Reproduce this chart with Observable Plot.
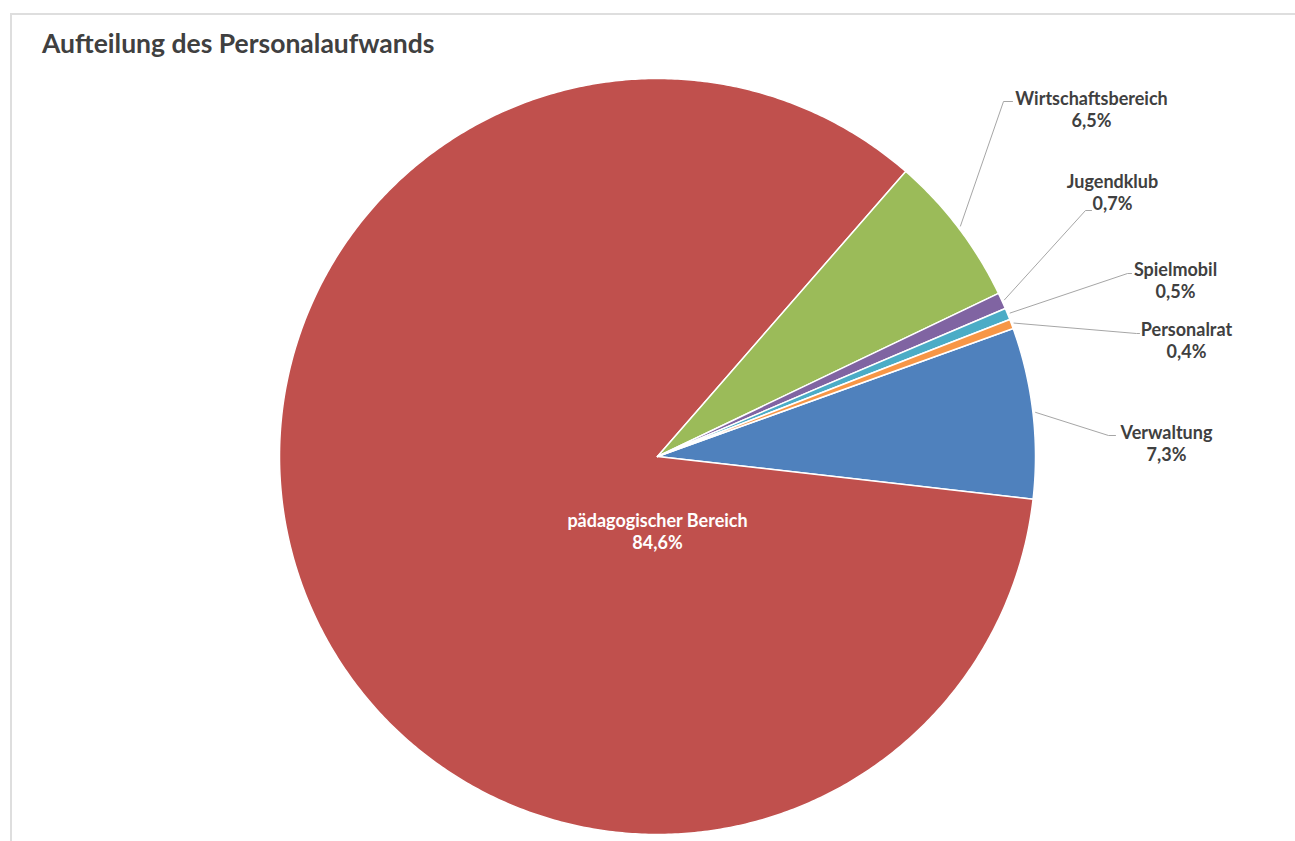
<!DOCTYPE html>
<html>
<head>
<meta charset="utf-8">
<script src="https://cdn.jsdelivr.net/npm/d3@7"></script>
<script src="https://cdn.jsdelivr.net/npm/@observablehq/plot@0.6"></script>
<style>
  body { margin: 0; background: #ffffff; }
  #wrap { position: relative; width: 1295px; height: 841px; overflow: hidden; font-family: Lato, "Open Sans", sans-serif; }
  #frame { position: absolute; left: 10px; top: 13px; width: 1400px; height: 900px; border-left: 2px solid #dedede; border-top: 2px solid #dedede; }
  #title { position: absolute; left: 42px; top: 28px; font-family: Lato, sans-serif; font-weight: bold; font-size: 26.5px; line-height: 30px; color: #404040; white-space: nowrap; }
  #chart { position: absolute; left: 0; top: 0; }
</style>
</head>
<body>
<div id="wrap">
  <div id="frame"></div>
  <div id="chart"></div>
  <div id="title">Aufteilung des Personalaufwands</div>
</div>
<script>
// ---- data ----
const categories = ["Verwaltung", "pädagogischer Bereich", "Wirtschaftsbereich", "Jugendklub", "Spielmobil", "Personalrat"];
const shares = [7.3, 84.6, 6.5, 0.7, 0.5, 0.4];
const sliceColors = ["#4F81BD", "#C0504D", "#9BBB59", "#8064A2", "#4BACC6", "#F79646"];

// ---- layout (pixels) ----
const W = 1295, H = 841;
const CX = 657, CY = 456, R = 378;
const START_ANGLE = 70.2; // degrees, clockwise from 12 o'clock
// label block centres and leader-line bends for outside labels
const labelLayout = [
  { name: "Verwaltung",            tx: 1166, ty: 442, bend: [1108, 435], end: [1115, 435], inside: false },
  { name: "pädagogischer Bereich", tx: 657,  ty: 530, inside: true },
  { name: "Wirtschaftsbereich",    tx: 1091, ty: 108, bend: [1003, 101], end: [1012, 101], inside: false },
  { name: "Jugendklub",            tx: 1112, ty: 191, bend: [1085, 210], end: [1091, 210], inside: false },
  { name: "Spielmobil",            tx: 1175, ty: 279, bend: [1127, 273], end: [1131, 273], inside: false },
  { name: "Personalrat",           tx: 1186, ty: 339, bend: [1136, 333], end: [1139, 333], inside: false }
];

const toUX = px => (px - CX) / R;
const toUY = py => (CY - py) / R;
const fmtPct = v => d3.format(".1f")(v).replace(".", ",") + "%";

const total = d3.sum(shares);
const slicePts = [];
const mids = [];
let cum = 0;
categories.forEach((name, i) => {
  const a0 = START_ANGLE + cum / total * 360;
  const a1 = a0 + shares[i] / total * 360;
  cum += shares[i];
  mids.push((a0 + a1) / 2);
  slicePts.push({ name, x: 0, y: 0 });
  const n = Math.max(2, Math.ceil((a1 - a0) / 0.5));
  for (let k = 0; k <= n; k++) {
    const a = (a0 + (a1 - a0) * k / n) * Math.PI / 180;
    slicePts.push({ name, x: Math.sin(a), y: Math.cos(a) });
  }
});

const leaderPts = [];
const labels = [];
categories.forEach((name, i) => {
  const L = labelLayout.find(d => d.name === name);
  labels.push({ name, text: name + "\n" + fmtPct(shares[i]), x: toUX(L.tx), y: toUY(L.ty), inside: L.inside });
  if (!L.inside) {
    const a = mids[i] * Math.PI / 180;
    leaderPts.push({ name, x: 1.007 * Math.sin(a), y: 1.007 * Math.cos(a) });
    leaderPts.push({ name, x: toUX(L.bend[0]), y: toUY(L.bend[1]) });
    leaderPts.push({ name, x: toUX(L.end[0]), y: toUY(L.end[1]) });
  }
});

const chart = Plot.plot({
  width: W,
  height: H,
  margin: 0,
  style: { background: "transparent", overflow: "visible" },
  x: { domain: [toUX(0), toUX(W)], axis: null },
  y: { domain: [toUY(H), toUY(0)], axis: null },
  color: { domain: categories, range: sliceColors },
  marks: [
    Plot.line(slicePts, { x: "x", y: "y", z: "name", fill: "name", stroke: "white", strokeWidth: 1.5, curve: "linear-closed" }),
    Plot.line(leaderPts, { x: "x", y: "y", z: "name", stroke: "#a6a6a6", strokeWidth: 1 }),
    Plot.text(labels, {
      x: "x", y: "y", text: "text",
      fill: d => d.inside ? "#ffffff" : "#404040",
      fontSize: 18, fontWeight: "bold", fontFamily: "Lato, sans-serif",
      lineHeight: 1.23, textAnchor: "middle", lineAnchor: "middle"
    })
  ]
});
document.getElementById("chart").appendChild(chart);
</script>
</body>
</html>
